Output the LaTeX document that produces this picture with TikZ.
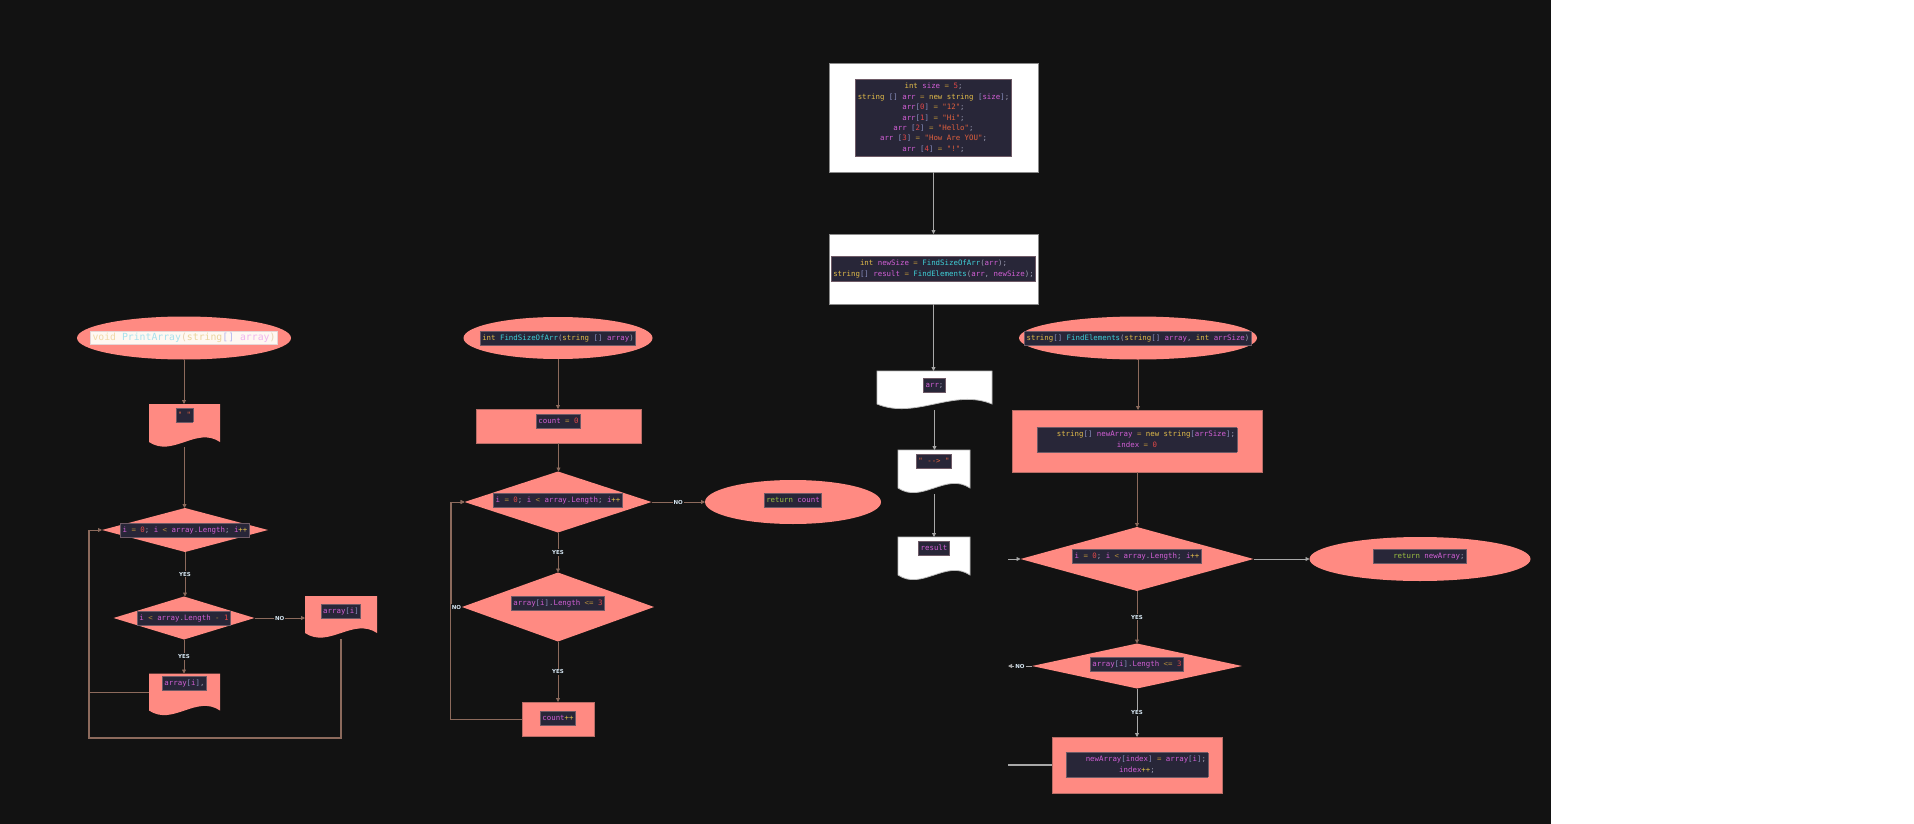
\documentclass[tikz,border=0pt]{standalone}
\usepackage{fontspec}
\setmonofont{DejaVu Sans Mono}
\setsansfont{DejaVu Sans}
\usetikzlibrary{shapes.geometric,arrows.meta,calc}
\pgfdeclarelayer{bgl}
\pgfdeclarelayer{docl}
\pgfsetlayers{bgl,docl,main}
\definecolor{bgdark}{HTML}{121212}
\definecolor{pinkf}{HTML}{FF8A82}
\definecolor{pinkedge}{HTML}{B86C66}
\definecolor{boxgrey}{HTML}{8A8A8A}
\definecolor{docgrey}{HTML}{BBBBBB}
\definecolor{codebg}{HTML}{282638}
\definecolor{codeedge}{HTML}{6E5A66}
\definecolor{linebrown}{HTML}{8C6A5C}
\definecolor{linegrey}{HTML}{A8A8A8}
\definecolor{lblcol}{HTML}{D6E6F2}
\definecolor{ckw}{HTML}{E2BC4A}
\definecolor{cvar}{HTML}{D25FD6}
\definecolor{cfn}{HTML}{3FD0D8}
\definecolor{cop}{HTML}{B08A3A}
\definecolor{cnum}{HTML}{E04848}
\definecolor{cstr}{HTML}{E0603E}
\definecolor{cbr}{HTML}{8A90C0}
\definecolor{cpun}{HTML}{9A9AB0}
\definecolor{cret}{HTML}{9CC040}
\newcommand\sK[1]{\textcolor{ckw}{#1}}
\newcommand\sV[1]{\textcolor{cvar}{#1}}
\newcommand\sF[1]{\textcolor{cfn}{#1}}
\newcommand\sO[1]{\textcolor{cop}{#1}}
\newcommand\sN[1]{\textcolor{cnum}{#1}}
\newcommand\sS[1]{\textcolor{cstr}{#1}}
\newcommand\sB[1]{\textcolor{cbr}{#1}}
\newcommand\sP[1]{\textcolor{cpun}{#1}}
\newcommand\sR[1]{\textcolor{cret}{#1}}
\newsavebox\ctrbx
\newcommand\ctr[2][0pt]{\sbox\ctrbx{#2}\raisebox{\dimexpr #1-(\ht\ctrbx-\dp\ctrbx)/2\relax}[0pt][0pt]{\makebox[0pt]{\usebox\ctrbx}}}
\newcommand\codefont{\ttfamily\fontsize{7.4}{10.4}\selectfont}
\newcommand\cbox[1]{{\codefont\setlength\fboxsep{1.5pt}\setlength\fboxrule{0.8pt}\fcolorbox{codeedge}{codebg}{\begin{tabular}{@{}c@{}}#1\end{tabular}}}}
\newcommand\docshape[2]{\path[#2] (#1.north west) -- (#1.north east) -- (#1.south east) .. controls ($(#1.south east)!0.333!(#1.south west)+(0,-16)$) and ($(#1.south west)!0.333!(#1.south east)+(0,16)$) .. (#1.south west) -- cycle;}
\tikzset{
  base/.style={inner sep=0pt, outer sep=0pt},
  pinkrect/.style={base, rectangle, fill=pinkf, draw=pinkedge, line width=0.6pt},
  whitebox/.style={base, rectangle, fill=white, draw=boxgrey, line width=1pt},
  pinkdia/.style={base, diamond, fill=pinkf},
  pinkell/.style={base, ellipse, fill=pinkf},
  docnode/.style={base, rectangle},
  conn/.style={draw=linebrown, line width=0.8pt, -{Triangle[length=4pt,width=4pt]}},
  conng/.style={conn, draw=linegrey},
  plain/.style={draw=linegrey, line width=1.6pt},
  lbl/.style={font=\sffamily\bfseries\fontsize{5.5}{6}\selectfont, text=lblcol, fill=bgdark, inner sep=1pt},
}
\begin{document}
\begin{tikzpicture}[x=1pt,y=-1pt]
\useasboundingbox (0,0) rectangle (1914,824);
\begin{pgfonlayer}{bgl}
\fill[bgdark] (0,0) rectangle (1551,824);
\fill[white] (1551,0) rectangle (1914,824);
\end{pgfonlayer}

% ---- centre column ----
\node[whitebox, minimum width=209pt, minimum height=108pt] (init) at (933.5,118) {\ctr{\cbox{%
\sK{int} \sV{size} \sO{=} \sN{5}\sP{;}\\
\sK{string} \sB{[]} \sV{arr} \sO{=} \sK{new} \sK{string} \sB{[}\sV{size}\sB{]}\sP{;}\\
\sV{arr}\sB{[}\sN{0}\sB{]} \sO{=} \sS{"12"}\sP{;}\\
\sV{arr}\sB{[}\sN{1}\sB{]} \sO{=} \sS{"Hi"}\sP{;}\\
\sV{arr} \sB{[}\sN{2}\sB{]} \sO{=} \sS{"Hello"}\sP{;}\\
\sV{arr} \sB{[}\sN{3}\sB{]} \sO{=} \sS{"How Are YOU"}\sP{;}\\
\sV{arr} \sB{[}\sN{4}\sB{]} \sO{=} \sS{"!"}\sP{;}}}};
\node[whitebox, minimum width=209pt, minimum height=70pt] (call) at (933.5,269) {\ctr{\cbox{%
\sK{int} \sV{newSize} \sO{=} \sF{FindSizeOfArr}\sP{(}\sV{arr}\sP{);}\\
\sK{string}\sB{[]} \sV{result} \sO{=} \sF{FindElements}\sP{(}\sV{arr}\sP{,} \sV{newSize}\sP{);}}}};
\node[docnode, minimum width=115pt, minimum height=33pt] (docArr) at (934.5,387.5) {\ctr[2pt]{\cbox{\sV{arr}\sP{;}}}};
\node[docnode, minimum width=72pt, minimum height=38pt] (docArrow) at (934,469) {\ctr[7.5pt]{\cbox{\sS{" -{}-> "}}}};
\node[docnode, minimum width=72pt, minimum height=38pt] (docRes) at (934,556) {\ctr[8pt]{\cbox{\sV{result}}}};

% ---- column 1 ----
\node[pinkell, minimum width=214pt, minimum height=43pt] (e1) at (184,338) {\ctr{{\ttfamily\fontsize{9.8}{11.5}\selectfont\setlength\fboxsep{1.5pt}\setlength\fboxrule{0.6pt}\fcolorbox[HTML]{E6D6D6}{FFF8F2}{\textcolor[HTML]{F1D9A8}{void} \textcolor[HTML]{A8E2EE}{PrintArray}\textcolor[HTML]{E8D2B0}{(}\textcolor[HTML]{EAD49C}{string}\textcolor[HTML]{B8B8F0}{[]} \textcolor[HTML]{F0B4EE}{array}\textcolor[HTML]{E8D2B0}{)}}}}};
\node[docnode, minimum width=71pt, minimum height=38pt] (docQ) at (184.5,423) {\ctr[8pt]{\cbox{\sS{" "}}}};
\node[pinkdia, minimum width=166pt, minimum height=44pt] (d1) at (185,530) {\ctr{\cbox{\sV{i} \sO{=} \sN{0}\sP{;} \sV{i} \sO{<} \sV{array}\sP{.}\sV{Length}\sP{;} \sV{i}\sK{++}}}};
\node[pinkdia, minimum width=141pt, minimum height=43pt] (d2) at (184,618) {\ctr{\cbox{\sV{i} \sO{<} \sV{array}\sP{.}\sV{Length} \sO{-} \sN{1}}}};
\node[docnode, minimum width=72pt, minimum height=37pt] (docAi) at (341,614.5) {\ctr[3.5pt]{\cbox{\sV{array}\sB{[}\sV{i}\sB{]}}}};
\node[docnode, minimum width=71pt, minimum height=37pt] (docAic) at (184.5,692) {\ctr[9pt]{\cbox{\sV{array}\sB{[}\sV{i}\sB{]}\sP{,}}}};

% ---- column 2 ----
\node[pinkell, minimum width=189pt, minimum height=42pt] (e2) at (558,338) {\ctr{\cbox{\sK{int} \sF{FindSizeOfArr}\sP{(}\sK{string} \sB{[]} \sV{array}\sP{)}}}};
\node[pinkrect, minimum width=165pt, minimum height=34pt] (r0) at (558.5,426) {\ctr[5pt]{\cbox{\sV{count} \sO{=} \sN{0}}}};
\node[pinkdia, minimum width=187pt, minimum height=61pt] (dd1) at (558,502) {\ctr[2pt]{\cbox{\sV{i} \sO{=} \sN{0}\sP{;} \sV{i} \sO{<} \sV{array}\sP{.}\sV{Length}\sP{;} \sV{i}\sK{++}}}};
\node[pinkell, minimum width=176pt, minimum height=44pt] (retc) at (793,502) {\ctr[2pt]{\cbox{\sR{return} \sV{count}}}};
\node[pinkdia, minimum width=192pt, minimum height=69pt] (dd2) at (558,607) {\ctr[4pt]{\cbox{\sV{array}\sB{[}\sV{i}\sB{]}\sP{.}\sV{Length} \sO{<=} \sN{3}}}};
\node[pinkrect, minimum width=72pt, minimum height=34pt] (cpp) at (558,719) {\ctr[1pt]{\cbox{\sV{count}\sK{++}}}};

% ---- column 3 ----
\node[pinkell, minimum width=238pt, minimum height=43pt] (e3) at (1138,338) {\ctr{\cbox{\sK{string}\sB{[]} \sF{FindElements}\sP{(}\sK{string}\sB{[]} \sV{array}\sP{,} \sK{int} \sV{arrSize}\sP{)}}}};
\node[pinkrect, minimum width=250pt, minimum height=62pt] (r1) at (1137,441) {\ctr[1pt]{\cbox{\hphantom{0000}\sK{string}\sB{[]} \sV{newArray} \sO{=} \sK{new} \sK{string}\sB{[}\sV{arrSize}\sB{]}\sP{;}\\ \sV{index} \sO{=} \sN{0}}}};
\node[pinkdia, minimum width=233pt, minimum height=64pt] (dq1) at (1137,559) {\ctr[3pt]{\cbox{\sV{i} \sO{=} \sN{0}\sP{;} \sV{i} \sO{<} \sV{array}\sP{.}\sV{Length}\sP{;} \sV{i}\sK{++}}}};
\node[pinkell, minimum width=221pt, minimum height=44pt] (retn) at (1420,559) {\ctr[3pt]{\cbox{\hphantom{0000}\sR{return} \sV{newArray}\sP{;}}}};
\node[pinkdia, minimum width=210pt, minimum height=45pt] (dq2) at (1137,666) {\ctr[2pt]{\cbox{\sV{array}\sB{[}\sV{i}\sB{]}\sP{.}\sV{Length} \sO{<=} \sN{3}}}};
\node[pinkrect, minimum width=170pt, minimum height=56pt] (r2) at (1137,765) {\ctr{\cbox{\hphantom{0000}\sV{newArray}\sB{[}\sV{index}\sB{]} \sO{=} \sV{array}\sB{[}\sV{i}\sB{]}\sP{;}\\ \sV{index}\sK{++}\sP{;}}}};

\coordinate (s1) at (1008,559);
\coordinate (s2) at (1008,666);
\coordinate (s3) at (1008,765);

% document shapes behind their texts
\begin{pgfonlayer}{docl}
\docshape{docArr}{fill=white, draw=docgrey, line width=0.8pt}
\docshape{docArrow}{fill=white, draw=docgrey, line width=0.8pt}
\docshape{docRes}{fill=white, draw=docgrey, line width=0.8pt}
\docshape{docQ}{fill=pinkf}
\docshape{docAi}{fill=pinkf}
\docshape{docAic}{fill=pinkf}
\end{pgfonlayer}

% ---- connectors: centre ----
\draw[conng] (init.south) -- (init.south |- call.north);
\draw[conng] (call.south) -- (call.south |- docArr.north);
\draw[conng] ([yshift=-6pt]docArr.south) -- (docArr.south |- docArrow.north);
\draw[conng] ([yshift=-6pt]docArrow.south) -- (docArrow.south |- docRes.north);

% ---- connectors: column 1 ----
\draw[conn] (e1.south) -- (e1.south |- docQ.north);
\draw[conn] ([yshift=-5pt]docQ.south) -- (docQ.south |- d1.north);
\draw[conn] (d1.south) -- node[lbl]{YES} (d1.south |- d2.north);
\draw[conn] (d2.east) -- node[lbl]{NO} (d2.east -| docAi.west);
\draw[conn] (d2.south) -- node[lbl]{YES} (d2.south |- docAic.north);
\draw[conn] (docAic.west) -| ($(d1.west)+(-13,0)$) -- (d1.west);
\draw[draw=linebrown, line width=1.4pt] ([yshift=-6pt]docAi.south) -- (341,738) -| ($(d1.west)+(-13,0)$);

% ---- connectors: column 2 ----
\draw[conn] (e2.south) -- (e2.south |- r0.north);
\draw[conn] (r0.south) -- (r0.south |- dd1.north);
\draw[conn] (dd1.east) -- node[lbl]{NO} (retc.west);
\draw[conn] (dd1.south) -- node[lbl]{YES} (dd1.south |- dd2.north);
\draw[conn] (dd2.south) -- node[lbl]{YES} (dd2.south |- cpp.north);
\draw[conn] (dd2.west) -- node[lbl]{NO} ($(dd2.west)+(-11,0)$) |- (dd1.west);
\draw[conn] (cpp.west) -| ($(dd1.west)+(-14,0)$) -- (dd1.west);

% ---- connectors: column 3 ----
\draw[conn] (e3.south) -- (e3.south |- r1.north);
\draw[conn] (r1.south) -- (r1.south |- dq1.north);
\draw[conng] (dq1.east) -- (retn.west);
\draw[conn] (dq1.south) -- node[lbl]{YES} (dq1.south |- dq2.north);
\draw[conng] (dq2.south) -- node[lbl]{YES} (dq2.south |- r2.north);
\draw[conng] (s1) -- (dq1.west);
\draw[conng] (dq2.west) -- node[lbl]{NO} (s2);
\draw[plain] (r2.west) -- (s3);
\end{tikzpicture}
\end{document}
